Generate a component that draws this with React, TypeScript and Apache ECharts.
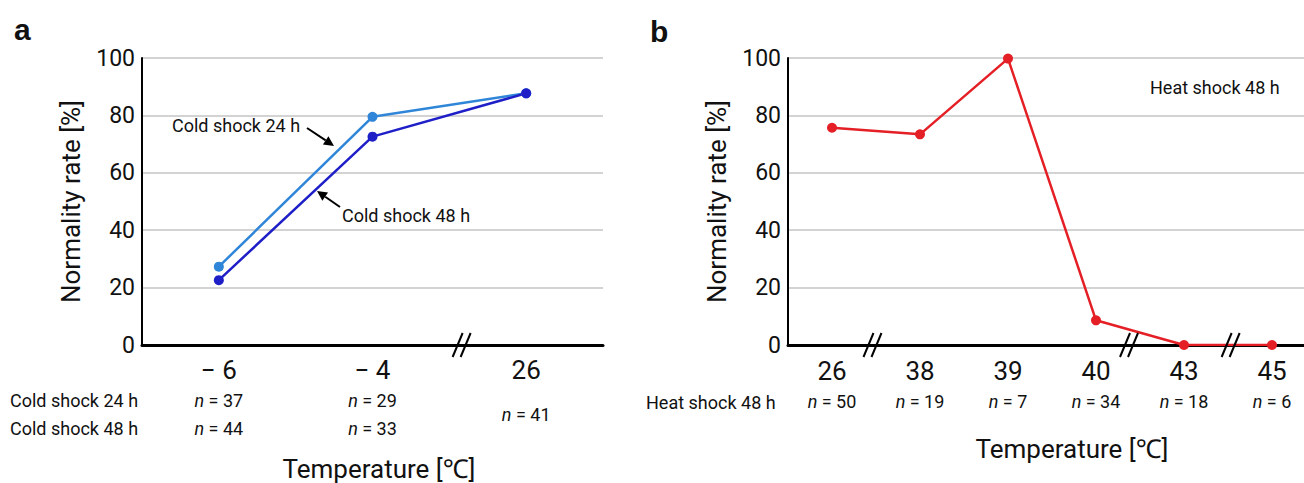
import React, { useEffect, useRef } from "react";
import * as echarts from "echarts";

// ---- Data ----
const coldCategories = ["− 6", "− 4", "26"];
const cold24Values = [27.3, 79.5, 87.7];
const cold48Values = [22.6, 72.6, 87.7];
const cold24N = [37, 29, 41];
const cold48N = [44, 33, 41];

const heatCategories = ["26", "38", "39", "40", "43", "45"];
const heat48Values = [75.7, 73.4, 99.8, 8.6, 0, 0];
const heat48N = [50, 19, 7, 34, 18, 6];

const yMin = 0;
const yMax = 100;
const yInterval = 20;

// axis break marks: [index of category before the break, fraction toward the next one]
const coldBreaks = [[1, 0.58]];
const heatBreaks = [[0, 0.46], [3, 0.375], [4, 0.53]];

const FONT = "Roboto, 'Noto Sans', 'DejaVu Sans', sans-serif";
const C24 = "#2f86d8";
const C48 = "#1f1fc8";
const CRED = "#e41f26";

const richStyles = {
  t: { fontSize: 26, lineHeight: 32, color: "#111", fontFamily: FONT },
  ni: { fontSize: 18, lineHeight: 28, color: "#111", fontStyle: "italic", fontFamily: FONT },
  nv: { fontSize: 18, lineHeight: 28, color: "#111", fontFamily: FONT },
  si: { fontSize: 18, lineHeight: 56, color: "#111", fontStyle: "italic", fontFamily: FONT },
  sv: { fontSize: 18, lineHeight: 56, color: "#111", fontFamily: FONT },
};

function yAxisCfg(gridIndex: number) {
  return {
    type: "value",
    gridIndex,
    min: yMin,
    max: yMax,
    interval: yInterval,
    name: "Normality rate [%]",
    nameLocation: "middle",
    nameGap: 58,
    nameTextStyle: { fontSize: 26, color: "#111", fontFamily: FONT },
    axisLine: { show: true, lineStyle: { color: "#000", width: 2 } },
    axisTick: { show: false },
    axisLabel: { fontSize: 23, color: "#111", margin: 7, fontFamily: FONT },
    splitLine: { show: true, lineStyle: { color: "#c4c4c4", width: 1.5 } },
  };
}

export default function App() {
  const ref = useRef<HTMLDivElement>(null);
  useEffect(() => {
    document.body.style.margin = "0";
    document.body.style.overflow = "hidden";
    const chart = echarts.init(ref.current!, null, { renderer: "svg" });
    const option: any = {
      animation: false,
      backgroundColor: "#fff",
      grid: [
        { left: 142, top: 58, width: 461, height: 287, outerBoundsMode: "none", containLabel: false },
        { left: 788, top: 58, width: 528, height: 287, outerBoundsMode: "none", containLabel: false },
      ],
      xAxis: [
        {
          type: "category",
          gridIndex: 0,
          data: coldCategories,
          boundaryGap: true,
          axisLine: { lineStyle: { color: "#000", width: 3 } },
          axisTick: { show: false },
          axisLabel: {
            margin: 9,
            interval: 0,
            formatter: (value: string, idx: number) => {
              const a = cold24N[idx];
              const b = cold48N[idx];
              if (a === b) return `{t|${value}}\n{si|n}{sv| = ${a}}`;
              return `{t|${value}}\n{ni|n}{nv| = ${a}}\n{ni|n}{nv| = ${b}}`;
            },
            rich: richStyles,
          },
        },
        {
          type: "category",
          gridIndex: 1,
          data: heatCategories,
          boundaryGap: true,
          axisLine: { lineStyle: { color: "#000", width: 3 } },
          axisTick: { show: false },
          axisLabel: {
            margin: 10,
            interval: 0,
            formatter: (value: string, idx: number) =>
              `{t|${value}}\n{ni|n}{nv| = ${heat48N[idx]}}`,
            rich: richStyles,
          },
        },
      ],
      yAxis: [yAxisCfg(0), yAxisCfg(1)],
      series: [
        {
          name: "Cold shock 24 h",
          type: "line",
          xAxisIndex: 0,
          yAxisIndex: 0,
          data: cold24Values,
          symbol: "circle",
          symbolSize: 10,
          lineStyle: { color: C24, width: 2.5 },
          itemStyle: { color: C24 },
        },
        {
          name: "Cold shock 48 h",
          type: "line",
          xAxisIndex: 0,
          yAxisIndex: 0,
          data: cold48Values,
          symbol: "circle",
          symbolSize: 10,
          lineStyle: { color: C48, width: 2.5 },
          itemStyle: { color: C48 },
        },
        {
          name: "Heat shock 48 h",
          type: "line",
          xAxisIndex: 1,
          yAxisIndex: 1,
          data: heat48Values,
          symbol: "circle",
          symbolSize: 10,
          lineStyle: { color: CRED, width: 2.5 },
          itemStyle: { color: CRED },
        },
      ],
    };
    chart.setOption(option);

    const breakMarks = (axisIndex: number, cats: string[], breaks: number[][]) => {
      const out: any[] = [];
      const y0 = chart.convertToPixel({ yAxisIndex: axisIndex }, 0) as number;
      breaks.forEach(([i, f]) => {
        const xa = chart.convertToPixel({ xAxisIndex: axisIndex }, cats[i]) as number;
        const xb = chart.convertToPixel({ xAxisIndex: axisIndex }, cats[i + 1]) as number;
        const xm = xa + (xb - xa) * f;
        [-4, 4].forEach((o) => {
          out.push({
            type: "line",
            shape: { x1: xm + o - 5, y1: y0 + 12, x2: xm + o + 5, y2: y0 - 12 },
            style: { stroke: "#000", lineWidth: 2 },
            z: 100,
          });
        });
      });
      return out;
    };

    const txt = (text: string, x: number, y: number, size: number, align = "left", extra: any = {}) => ({
      type: "text",
      x,
      y,
      z: 100,
      style: {
        text,
        fill: "#111",
        fontSize: size,
        fontFamily: FONT,
        align,
        verticalAlign: "middle",
        ...extra,
      },
    });

    const arrow = (x1: number, y1: number, x2: number, y2: number) => {
      const dx = x2 - x1;
      const dy = y2 - y1;
      const L = Math.hypot(dx, dy);
      const ux = dx / L;
      const uy = dy / L;
      const hl = 10;
      const hw = 5;
      const bx = x2 - ux * hl;
      const by = y2 - uy * hl;
      const px = -uy;
      const py = ux;
      return [
        {
          type: "line",
          shape: { x1, y1, x2: bx, y2: by },
          style: { stroke: "#000", lineWidth: 2 },
          z: 100,
        },
        {
          type: "polygon",
          shape: { points: [[x2, y2], [bx + px * hw, by + py * hw], [bx - px * hw, by - py * hw]] },
          style: { fill: "#000" },
          z: 100,
        },
      ];
    };

    chart.setOption({
      graphic: [
        txt("a", 14, 29, 30, "left", { fontWeight: "bold", fontFamily: "'Liberation Sans', Arial, sans-serif" }),
        txt("b", 650, 31, 30, "left", { fontWeight: "bold", fontFamily: "'Liberation Sans', Arial, sans-serif" }),
        txt("Cold shock 24 h", 172, 125, 18),
        txt("Cold shock 48 h", 342, 215, 18),
        ...arrow(307, 128, 334, 146),
        ...arrow(340, 207, 317, 191),
        txt("Heat shock 48 h", 1150, 87, 18),
        txt("Cold shock 24 h", 10, 400, 18),
        txt("Cold shock 48 h", 10, 428, 18),
        txt("Heat shock 48 h", 646, 402, 18),
        txt("Temperature [℃]", 379, 469, 26, "center"),
        txt("Temperature [℃]", 1072, 449, 26, "center"),
        ...breakMarks(0, coldCategories, coldBreaks),
        ...breakMarks(1, heatCategories, heatBreaks),
      ],
    });

    return () => chart.dispose();
  }, []);
  return <div ref={ref} style={{ width: 1304, height: 483 }} />;
}
